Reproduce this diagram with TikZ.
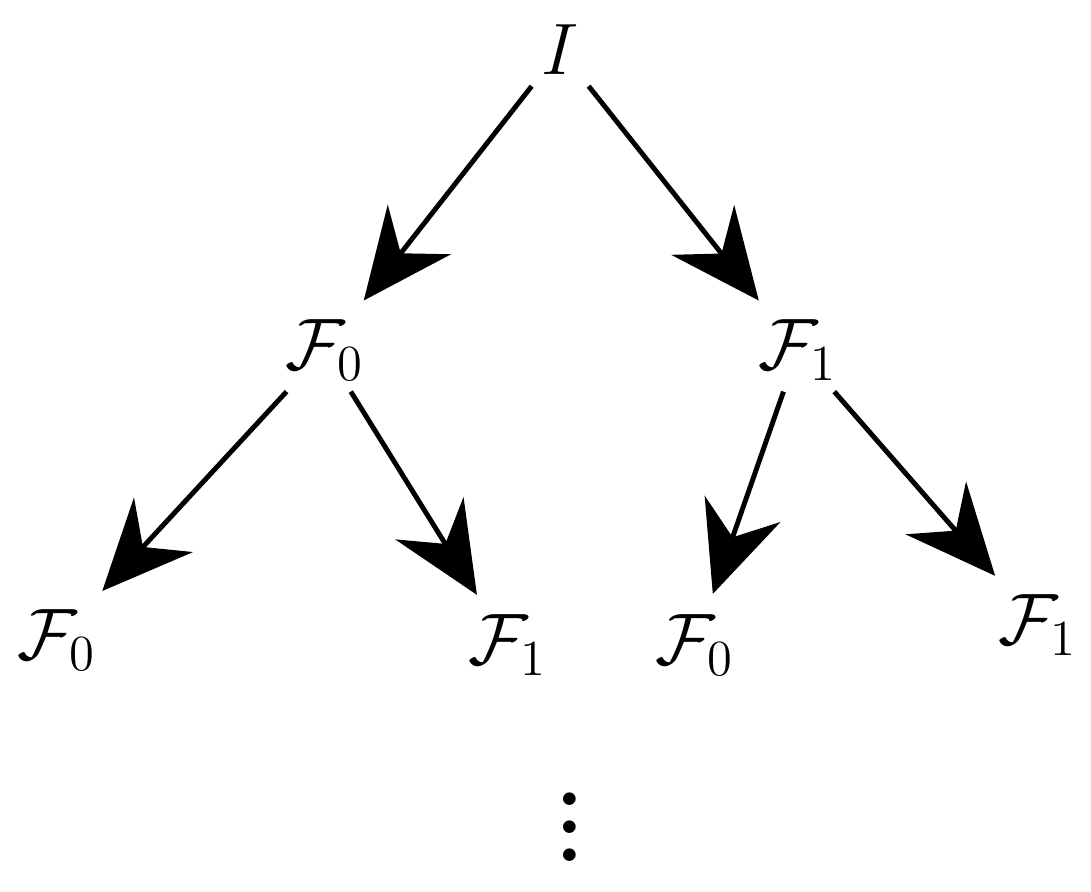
\documentclass[tikz,border=0pt]{standalone}
\usetikzlibrary{arrows.meta}
\begin{document}
\begin{tikzpicture}[x=1cm,y=1cm,
  lab/.style={font=\fontsize{22}{26}\selectfont, inner sep=3pt},
  arr/.style={line width=1.4pt,-{Stealth[length=9mm,width=8mm,inset=3mm]},shorten >=1mm}]
\useasboundingbox (0,0) rectangle (10.91,8.91);
\node[lab] (I) at (5.6,8.41) {$I$};
\node[lab] (a) at (3.25,5.41) {$\mathcal{F}_0$};
\node[lab] (b) at (7.98,5.41) {$\mathcal{F}_1$};
\node[lab] (c) at (0.57,2.51) {$\mathcal{F}_0$};
\node[lab] (d) at (5.08,2.46) {$\mathcal{F}_1$};
\node[lab] (e) at (6.95,2.46) {$\mathcal{F}_0$};
\node[lab] (f) at (10.38,2.66) {$\mathcal{F}_1$};
\node[lab,scale=2.0] (g) at (5.7,0.85) {$\vdots$};
\draw[arr] (I) -- (a);
\draw[arr] (I) -- (b);
\draw[arr] (a) -- (c);
\draw[arr] (a) -- (d);
\draw[arr] (b) -- (e);
\draw[arr] (b) -- (f);
\end{tikzpicture}
\end{document}
